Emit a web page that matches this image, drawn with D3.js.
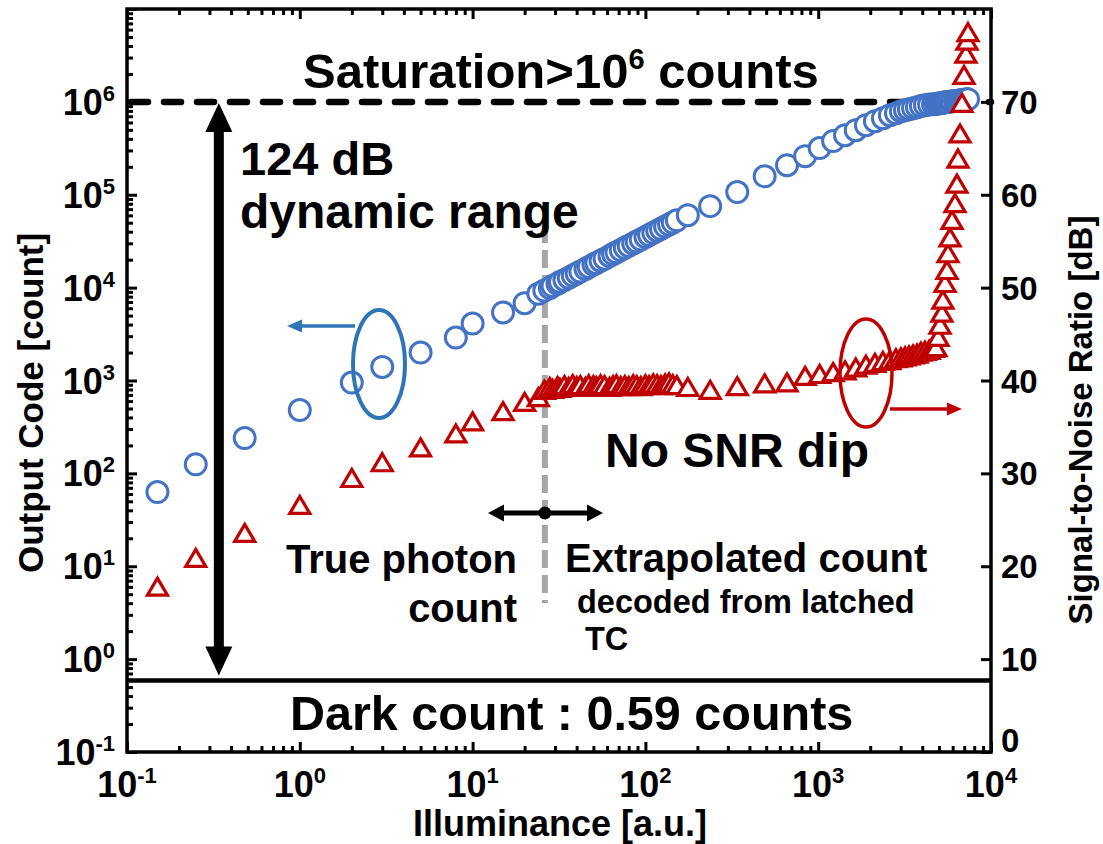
<!DOCTYPE html>
<html>
<head>
<meta charset="utf-8">
<script src="https://cdn.jsdelivr.net/npm/d3@7"></script>
<style>
  body { margin: 0; background: #fff; }
  svg { display: block; font-family: "Liberation Sans", Arial, sans-serif; font-weight: bold; }
</style>
</head>
<body>
<svg id="chart" width="1103" height="844"></svg>
<script>
// Illuminance sweep [a.u.]
const illuminance = [
  0.15, 0.25, 0.48, 1, 2, 3, 5, 8, 10, 15, 20, 24,
  26, 28, 29, 31, 32, 34, 36, 38, 40, 42, 45, 47, 50, 52, 55, 58, 62, 65, 68, 72,
  76, 80, 85, 89, 94, 100, 105, 111, 117, 123, 130, 137, 144, 152,
  176, 237, 340, 490, 660, 840, 1020, 1220, 1430, 1650, 1890, 2130, 2370, 2600,
  2820, 3010, 3180, 3350, 3540, 3730, 3930, 4150, 4380, 4620, 4800, 4940, 5070,
  5200, 5270, 5420, 5560, 5640, 5790, 5950, 6190, 6350, 6440, 6620, 6790, 6980,
  7160, 7260, 7360
];

// Output code [count] (left axis, circles)
const outputCode = [
  63, 125, 240, 480, 950, 1400, 2000, 2900, 4100, 5400, 6800, 8600,
  9300, 9900, 10400, 11000, 11500, 12100, 12800, 13500, 14200, 14900, 15900, 16700,
  17700, 18400, 19500, 20500, 21900, 23000, 24000, 25400, 26800, 28200, 29900, 31300,
  33000, 35100, 36800, 38900, 41000, 43000, 45400, 47800, 50200, 53000,
  60300, 75400, 107000, 158000, 208000, 260000, 318000, 378000, 438000, 496000,
  561000, 620000, 668000, 719000, 756000, 794000, 814000, 834000, 855000, 877000,
  900000, 920000, 935000, 944000, 950000, 960000, 968000, 975000, 980000, 990000,
  995000, 1000000, 1005000, 1015000, 1020000, 1025000, 1030000, 1040000, 1045000,
  1050000, 1060000, 1065000, 1070000
];

// Signal-to-noise ratio [dB] (right axis, triangles)
const snrDb = [
  17.8, 20.9, 23.6, 26.6, 29.5, 31.2, 32.8, 34.3, 35.6, 36.7, 37.7, 38.2,
  39.0, 39.3, 39.1, 39.4, 39.2, 39.5, 39.3, 39.6, 39.4, 39.5, 39.3, 39.6, 39.5, 39.4,
  39.6, 39.5, 39.3, 39.5, 39.6, 39.4, 39.5, 39.4, 39.6, 39.5, 39.4, 39.6, 39.5, 39.7,
  39.6, 39.5, 39.7, 39.8, 39.6, 39.5,
  39.3, 39.0, 39.4, 39.7, 39.8, 40.5, 40.7, 40.9, 41.1, 41.4, 41.7, 41.9, 42.1, 42.2,
  42.4, 42.5, 42.6, 42.7, 42.8, 42.9, 43.1, 43.2, 43.3, 43.5, 43.6, 44.7, 46.0, 47.3,
  48.7, 50.5, 51.9, 53.7, 55.4, 57.3, 59.1, 61.2, 63.9, 66.6, 69.9, 72.9, 75.2, 76.6,
  77.5
];

// Axis ticks
const xTickExps = [-1, 0, 1, 2, 3, 4];
const yTickExps = [-1, 0, 1, 2, 3, 4, 5, 6];
const snrTicks = [0, 10, 20, 30, 40, 50, 60, 70];

// Reference levels
const saturationLevel = 1e6;
const darkCount = 0.59;
const modeBoundary = 26.2;

const svg = d3.select("#chart");
const L = 127, R = 991, T = 9, B = 752;

const x = d3.scaleLog().domain([0.1, 1e4]).range([L, R]);
const y = d3.scaleLog().domain([0.1, 1e7]).range([B, T]);
const ySnr = d3.scaleLinear().domain([0, 80]).range([B, T]);

function minorTicks(lo, hi) {
  const out = [];
  for (let e = lo; e < hi; e++) for (let d = 2; d <= 9; d++) out.push(d * Math.pow(10, e));
  return out;
}
const xMajor = xTickExps.map(e => Math.pow(10, e));
const yMajor = d3.range(-1, 8).map(e => Math.pow(10, e));

function styleAxis(g) {
  g.select(".domain").remove();
  g.selectAll(".tick line").attr("stroke", "#000").attr("stroke-width", 3);
}

// Ticks (all pointing inward)
svg.append("g").attr("transform", `translate(${L},0)`)
  .call(d3.axisLeft(y).tickValues(yMajor).tickSize(-10).tickFormat("")).call(styleAxis);
svg.append("g").attr("transform", `translate(${L},0)`)
  .call(d3.axisLeft(y).tickValues(minorTicks(-1, 7)).tickSize(-6).tickFormat("")).call(styleAxis);
svg.append("g").attr("transform", `translate(0,${B})`)
  .call(d3.axisBottom(x).tickValues(xMajor).tickSize(-10).tickFormat("")).call(styleAxis);
svg.append("g").attr("transform", `translate(0,${B})`)
  .call(d3.axisBottom(x).tickValues(minorTicks(-1, 4)).tickSize(-6).tickFormat("")).call(styleAxis);
svg.append("g").attr("transform", `translate(0,${T})`)
  .call(d3.axisTop(x).tickValues(xMajor).tickSize(-10).tickFormat("")).call(styleAxis);
svg.append("g").attr("transform", `translate(0,${T})`)
  .call(d3.axisTop(x).tickValues(minorTicks(-1, 4)).tickSize(-6).tickFormat("")).call(styleAxis);
svg.append("g").attr("transform", `translate(${R},0)`)
  .call(d3.axisRight(ySnr).tickValues(snrTicks).tickSize(-10).tickFormat("")).call(styleAxis);

// Frame
svg.append("rect").attr("x", L).attr("y", T).attr("width", R - L).attr("height", B - T)
  .attr("fill", "none").attr("stroke", "#000").attr("stroke-width", 3.5);

// Tick labels
function powText(sel, e) {
  sel.append("tspan").text("10");
  sel.append("tspan").attr("dy", -14).attr("font-size", 22).text(e);
}
svg.append("g").selectAll("text").data(yTickExps).join("text")
  .attr("x", 115).attr("y", e => y(Math.pow(10, e)) + 13)
  .attr("text-anchor", "end").attr("font-size", 36)
  .each(function (e) { powText(d3.select(this), e); });
svg.append("g").selectAll("text").data(xTickExps).join("text")
  .attr("x", e => x(Math.pow(10, e))).attr("y", 797)
  .attr("text-anchor", "middle").attr("font-size", 36)
  .each(function (e) { powText(d3.select(this), e); });
svg.append("g").selectAll("text").data(snrTicks).join("text")
  .attr("x", 1001).attr("y", v => Math.min(ySnr(v), 740) + 12)
  .attr("font-size", 33).text(v => v);

// Axis titles
svg.append("text").attr("transform", "translate(43,403) rotate(-90)")
  .attr("text-anchor", "middle").attr("font-size", 35).text("Output Code [count]");
svg.append("text").attr("transform", "translate(1092,420) rotate(-90)")
  .attr("text-anchor", "middle").attr("font-size", 33).text("Signal-to-Noise Ratio [dB]");
svg.append("text").attr("x", 560).attr("y", 836)
  .attr("text-anchor", "middle").attr("font-size", 36).text("Illuminance [a.u.]");

// Saturation level and dark-count floor
svg.append("line").attr("x1", L + 4).attr("x2", R).attr("y1", y(saturationLevel)).attr("y2", y(saturationLevel))
  .attr("stroke", "#000").attr("stroke-width", 6.5).attr("stroke-dasharray", "17 16").attr("stroke-linecap", "round");
svg.append("line").attr("x1", L).attr("x2", R).attr("y1", y(darkCount)).attr("y2", y(darkCount))
  .attr("stroke", "#000").attr("stroke-width", 4.5);

// Boundary between counting and extrapolation
svg.append("line").attr("x1", x(modeBoundary)).attr("x2", x(modeBoundary)).attr("y1", 225).attr("y2", 603)
  .attr("stroke", "#a6a6a6").attr("stroke-width", 6).attr("stroke-dasharray", "18 7");

function arrowHead(tx, ty, dir, len, wid, color) {
  // dir: unit vector pointing toward the tip
  const [dx, dy] = dir, px = -dy, py = dx;
  const bx = tx - dx * len, by = ty - dy * len;
  svg.append("path")
    .attr("d", `M${tx},${ty}L${bx + px * wid / 2},${by + py * wid / 2}L${bx - px * wid / 2},${by - py * wid / 2}Z`)
    .attr("fill", color);
}

// Dynamic-range arrow
const drX = x(0.34);
svg.append("line").attr("x1", drX).attr("x2", drX)
  .attr("y1", y(saturationLevel) + 26).attr("y2", y(darkCount) - 26)
  .attr("stroke", "#000").attr("stroke-width", 10);
arrowHead(drX, y(saturationLevel) + 1, [0, -1], 29, 27, "#000");
arrowHead(drX, y(darkCount) - 5, [0, 1], 29, 27, "#000");

// Mode boundary double arrow
svg.append("line").attr("x1", 500).attr("x2", 590).attr("y1", 513).attr("y2", 513)
  .attr("stroke", "#000").attr("stroke-width", 5);
arrowHead(488, 513, [-1, 0], 16, 17, "#000");
arrowHead(603, 513, [1, 0], 16, 17, "#000");
svg.append("circle").attr("cx", x(modeBoundary)).attr("cy", 513).attr("r", 6.5).attr("fill", "#000");

// Data: output code (circles)
const pts = illuminance.map((v, i) => ({ x: v, code: outputCode[i], snr: snrDb[i] }));
svg.append("g").selectAll("circle").data(pts).join("circle")
  .attr("cx", d => x(d.x)).attr("cy", d => y(d.code)).attr("r", 10.5)
  .attr("fill", "#fff").attr("stroke", "#4472c4").attr("stroke-width", 3);

// Data: SNR (triangles)
const tw = 20, th = 17;
svg.append("g").selectAll("path").data(pts).join("path")
  .attr("transform", d => `translate(${x(d.x)},${ySnr(d.snr)})`)
  .attr("d", `M0,${-th / 2}L${tw / 2},${th / 2}L${-tw / 2},${th / 2}Z`)
  .attr("fill", "#fff").attr("stroke", "#c00000").attr("stroke-width", 3.2).attr("stroke-linejoin", "miter");

// Series call-outs
svg.append("ellipse").attr("cx", 379).attr("cy", 364).attr("rx", 26).attr("ry", 54)
  .attr("fill", "none").attr("stroke", "#2e75b6").attr("stroke-width", 4);
svg.append("line").attr("x1", 355).attr("x2", 300).attr("y1", 326).attr("y2", 326)
  .attr("stroke", "#2e75b6").attr("stroke-width", 3.5);
arrowHead(287, 326, [-1, 0], 15, 13, "#2e75b6");

svg.append("ellipse").attr("cx", 866).attr("cy", 373).attr("rx", 26).attr("ry", 54)
  .attr("fill", "none").attr("stroke", "#c00000").attr("stroke-width", 3.5);
svg.append("line").attr("x1", 890).attr("x2", 950).attr("y1", 409).attr("y2", 409)
  .attr("stroke", "#c00000").attr("stroke-width", 3.5);
arrowHead(962, 409, [1, 0], 15, 13, "#c00000");

// Text annotations
const sat = svg.append("text").attr("x", 303).attr("y", 88).attr("font-size", 49);
sat.append("tspan").text("Saturation>10");
sat.append("tspan").attr("dy", -19).attr("font-size", 29).text("6");
sat.append("tspan").attr("dy", 19).text(" counts");

svg.append("text").attr("x", 240).attr("y", 175).attr("font-size", 47).text("124 dB");
svg.append("text").attr("x", 240).attr("y", 228).attr("font-size", 48).text("dynamic range");
svg.append("text").attr("x", 605).attr("y", 467).attr("font-size", 48).text("No SNR dip");
svg.append("text").attr("x", 517).attr("y", 573).attr("text-anchor", "end").attr("font-size", 40).text("True photon");
svg.append("text").attr("x", 517).attr("y", 622).attr("text-anchor", "end").attr("font-size", 40).text("count");
svg.append("text").attr("x", 565).attr("y", 572).attr("font-size", 40).text("Extrapolated count");
svg.append("text").attr("x", 577).attr("y", 613).attr("font-size", 32.5).text("decoded from latched");
svg.append("text").attr("x", 585).attr("y", 650).attr("font-size", 32.5).text("TC");
svg.append("text").attr("x", 290).attr("y", 730).attr("font-size", 48.5).text("Dark count : 0.59 counts");
</script>
</body>
</html>
